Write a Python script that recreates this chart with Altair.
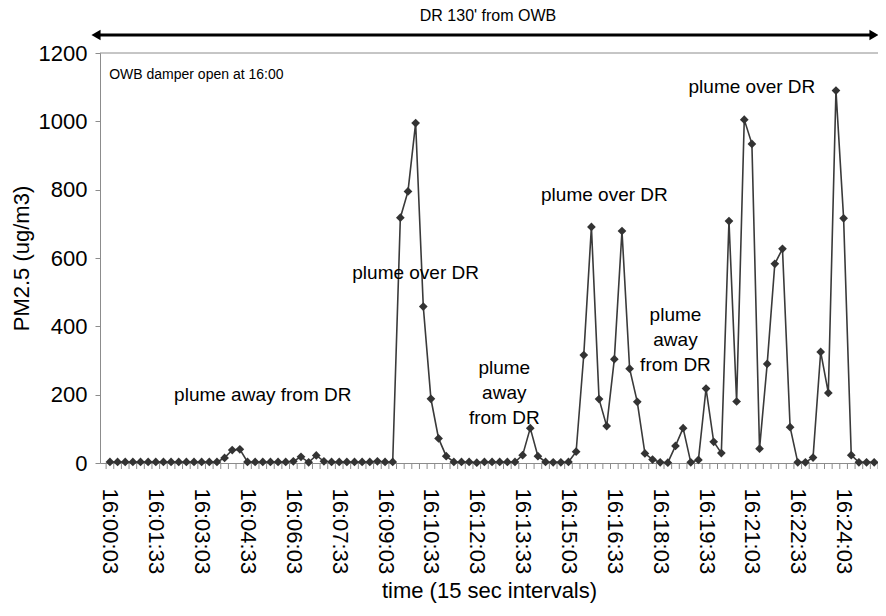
import json
import altair as alt
import pandas as pd

# ---- data ----
pm25 = [3, 3, 3, 3, 3, 3, 3, 3, 3, 3, 3, 3, 3, 3, 3,
        15, 38, 40,
        3, 3, 3, 3, 3, 3,
        5, 18, 2, 22, 5,
        3, 3, 3, 3, 3, 3,
        5, 3, 3,
        718, 795, 995, 458, 188, 72, 20,
        3, 3, 3, 1, 3, 3, 3, 3, 3,
        23, 102, 20, 3, 2, 2, 3,
        33, 316, 691, 187, 108, 304, 679, 276, 179, 28, 10, 2, 1,
        50, 102, 2, 9, 218, 62, 29, 708, 180, 1005, 934, 42, 290, 583, 627, 105,
        2, 2, 16, 325, 205, 1090, 716, 23, 2, 2, 2]
point_index = list(range(len(pm25)))

tick_labels = ["16:00:03", "16:01:33", "16:03:03", "16:04:33", "16:06:03",
               "16:07:33", "16:09:03", "16:10:33", "16:12:03", "16:13:33",
               "16:15:03", "16:16:33", "16:18:03", "16:19:33", "16:21:03",
               "16:22:33", "16:24:03"]
label_every = 6
label_pos = point_index[::label_every][:len(tick_labels)]
# category boundaries (tick marks sit between categories)
boundaries = [i - 0.5 for i in point_index] + [point_index[-1] + 0.5]
y_ticks = [0, 200, 400, 600, 800, 1000, 1200]

note_text = ["OWB damper open at 16:00"]
note_x = [-0.1]
note_y = [1136]

ann_text = ["plume away from DR", "plume over DR",
            "plume\naway\nfrom DR", "plume over DR", "plume\naway\nfrom DR",
            "plume over DR"]
ann_x = [20.0, 40.0, 51.6, 64.7, 74.0, 84.0]
ann_y = [200, 556, 278, 783, 433, 1100]

df = pd.DataFrame({"i": point_index, "v": pm25})
ann = pd.DataFrame({"t": ann_text, "x": ann_x, "y": ann_y})
note = pd.DataFrame({"t": note_text, "x": note_x, "y": note_y})
ticks_df = pd.DataFrame({"b": boundaries, "z": [0] * len(boundaries)})

W, H = 778, 410
x_dom = [-1.3, 100.5]
FONT = "Liberation Sans"
GRAY = "#8c8c8c"

label_expr = (json.dumps(tick_labels) + "[round(datum.value / " + str(label_every) + ")]")

xscale = alt.Scale(domain=x_dom, nice=False, zero=False)
yscale = alt.Scale(domain=[0, 1200], nice=False)

xaxis = alt.Axis(values=label_pos, labelExpr=label_expr, labelAngle=90,
                 labelAlign="left", labelBaseline="middle", labelOverlap=False,
                 labelFontSize=22, labelFont=FONT, labelColor="black",
                 labelPadding=25, ticks=False, domainColor=GRAY, grid=False,
                 labelBound=False, labelFlush=False,
                 title="time (15 sec intervals)", titleFont=FONT, titleFontSize=22,
                 titleFontWeight="normal", titleColor="black", titlePadding=7)
yaxis = alt.Axis(values=y_ticks, format="d", labelFontSize=22, labelFont=FONT,
                 labelColor="black", labelPadding=8, tickSize=5, tickColor=GRAY,
                 domainColor=GRAY, grid=False, title="PM2.5 (ug/m3)", titleFont=FONT,
                 titleFontSize=22, titleFontWeight="normal", titleColor="black",
                 titlePadding=5)


def X(field):
    return alt.X(field, scale=xscale, axis=xaxis)


def Y(field):
    return alt.Y(field, scale=yscale, axis=yaxis)


base = alt.Chart(df).encode(x=X("i:Q"), y=Y("v:Q"))
line = base.mark_line(color="#3a3a3a", strokeWidth=1.6)
pts = base.mark_point(shape="diamond", filled=True, size=76, color="#333333", opacity=1)

tick_marks = alt.Chart(ticks_df).mark_rule(color=GRAY, strokeWidth=1).encode(
    x=X("b:Q"), y=Y("z:Q"), y2=alt.value(H + 6))

top = alt.Chart(pd.DataFrame({"y": [1200]})).mark_rule(color=GRAY, strokeWidth=1).encode(
    y=Y("y:Q"))

texts = alt.Chart(ann).mark_text(font=FONT, fontSize=19, color="black", baseline="middle",
                                 align="center", lineBreak="\n", lineHeight=25).encode(
    x=X("x:Q"), y=Y("y:Q"), text="t:N")
note_mark = alt.Chart(note).mark_text(font=FONT, fontSize=14, color="black",
                                      baseline="middle", align="left").encode(
    x=X("x:Q"), y=Y("y:Q"), text="t:N")

one = pd.DataFrame({"k": [0]})
arrow_line = alt.Chart(one).mark_rule(color="black", strokeWidth=3).encode(
    x=alt.value(-4), x2=alt.value(W - 4), y=alt.value(-18))
head_l = alt.Chart(one).mark_point(shape="triangle-left", filled=True, color="black",
                                   size=110, opacity=1).encode(
    x=alt.value(-4), y=alt.value(-18))
head_r = alt.Chart(one).mark_point(shape="triangle-right", filled=True, color="black",
                                   size=110, opacity=1).encode(
    x=alt.value(W - 4), y=alt.value(-18))
header = alt.Chart(pd.DataFrame({"t": ["DR 130' from OWB"]})).mark_text(
    font=FONT, fontSize=16, color="black", baseline="middle", align="center").encode(
    x=alt.value(388), y=alt.value(-37), text="t:N")

chart = alt.layer(line, tick_marks, top, pts, texts, note_mark, arrow_line, head_l, head_r,
                  header).properties(
    width=W, height=H,
    autosize=alt.AutoSizeParams(type="none"),
    padding={"left": 92, "top": 45, "right": 0, "bottom": 140},
    background="white",
).configure_view(stroke=None)

chart.save("out.html", embed_options={"renderer": "svg", "actions": False})
